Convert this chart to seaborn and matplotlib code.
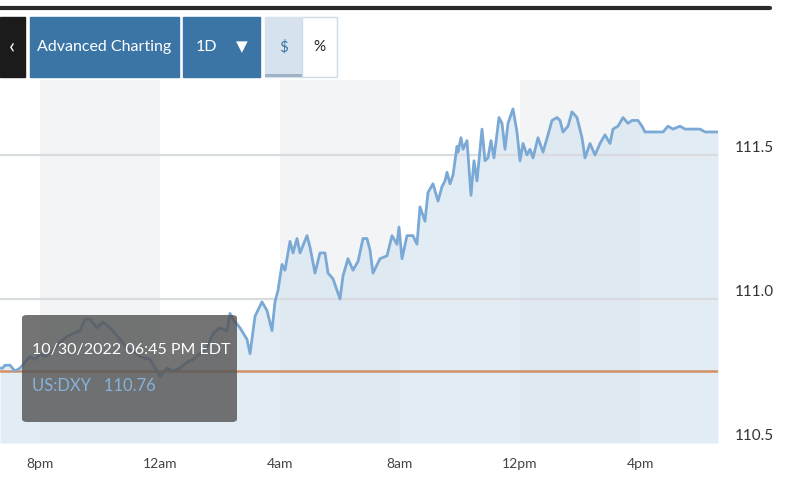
import pandas as pd
import numpy as np
import matplotlib.pyplot as plt
from matplotlib.patches import Rectangle, FancyBboxPatch
import seaborn as sns

# intraday US:DXY (time of day, index level)
times = ["18:40", "18:45", "18:50", "19:00", "19:10", "19:20", "19:30", "19:40", "19:50",
         "20:00", "20:10", "20:20", "20:30", "20:40", "20:54", "21:06", "21:20", "21:30",
         "21:40", "21:54", "22:06", "22:20", "22:30", "22:40", "22:54", "23:06", "23:20",
         "23:40", "23:54", "00:00", "00:14", "00:26", "00:40", "00:54", "01:06", "01:20",
         "01:34", "01:46", "02:00", "02:14", "02:20", "02:26", "02:40", "02:54", "03:00",
         "03:10", "03:24", "03:34", "03:44", "03:50", "03:56", "04:04", "04:10", "04:20",
         "04:26", "04:34", "04:40", "04:54", "05:00", "05:10", "05:20", "05:30", "05:36",
         "05:46", "05:54", "06:00", "06:06", "06:16", "06:26", "06:36", "06:46", "06:54",
         "07:00", "07:06", "07:20", "07:34", "07:44", "07:54", "07:58", "08:04", "08:14",
         "08:26", "08:34", "08:40", "08:50", "08:56", "09:06", "09:16", "09:24", "09:30",
         "09:34", "09:40", "09:46", "09:54", "09:56", "10:02", "10:06", "10:14", "10:22",
         "10:28", "10:34", "10:44", "10:50", "10:56", "11:02", "11:08", "11:18", "11:24",
         "11:30", "11:36", "11:46", "11:54", "12:00", "12:06", "12:14", "12:20", "12:26",
         "12:36", "12:46", "12:56", "13:04", "13:14", "13:20", "13:26", "13:36", "13:44",
         "13:54", "14:04", "14:10", "14:20", "14:30", "14:40", "14:50", "15:00", "15:06",
         "15:16", "15:26", "15:36", "15:44", "15:56", "16:04", "16:10", "16:20", "16:34",
         "16:46", "16:56", "17:06", "17:20", "17:30", "17:40", "17:50", "18:00", "18:10",
         "18:24", "18:36"]
dxy = [110.76, 110.76, 110.77, 110.77, 110.75, 110.76, 110.78, 110.80, 110.79,
       110.81, 110.80, 110.81, 110.83, 110.85, 110.87, 110.88, 110.89, 110.93,
       110.93, 110.90, 110.92, 110.90, 110.88, 110.86, 110.83, 110.82, 110.80,
       110.79, 110.75, 110.73, 110.76, 110.75, 110.76, 110.78, 110.79, 110.81,
       110.83, 110.88, 110.90, 110.89, 110.95, 110.93, 110.90, 110.86, 110.81,
       110.94, 110.99, 110.96, 110.89, 110.99, 111.03, 111.12, 111.10, 111.20,
       111.16, 111.21, 111.16, 111.22, 111.18, 111.09, 111.16, 111.16, 111.09,
       111.07, 111.03, 111.00, 111.08, 111.14, 111.10, 111.13, 111.21, 111.21,
       111.17, 111.09, 111.14, 111.15, 111.22, 111.19, 111.25, 111.14, 111.22,
       111.22, 111.19, 111.32, 111.27, 111.37, 111.40, 111.34, 111.39, 111.41,
       111.44, 111.40, 111.43, 111.53, 111.51, 111.56, 111.52, 111.55, 111.36,
       111.48, 111.41, 111.59, 111.48, 111.49, 111.55, 111.49, 111.63, 111.61,
       111.52, 111.61, 111.66, 111.58, 111.48, 111.54, 111.50, 111.52, 111.49,
       111.56, 111.51, 111.57, 111.62, 111.63, 111.62, 111.58, 111.60, 111.65,
       111.63, 111.56, 111.49, 111.54, 111.50, 111.54, 111.57, 111.54, 111.59,
       111.60, 111.63, 111.61, 111.62, 111.62, 111.60, 111.58, 111.58, 111.58,
       111.58, 111.60, 111.59, 111.60, 111.59, 111.59, 111.59, 111.59, 111.58,
       111.58, 111.58]
prev_close = 110.75
y_ticks = [110.5, 111.0, 111.5]
y_labels = ["110.5", "111.0", "111.5"]
x_ticks = ["2022-10-30 20:00", "2022-10-31 00:00", "2022-10-31 04:00",
           "2022-10-31 08:00", "2022-10-31 12:00", "2022-10-31 16:00"]
x_labels = ["8pm", "12am", "4am", "8am", "12pm", "4pm"]
shaded = [("2022-10-30 20:00", "2022-10-31 00:00"),
          ("2022-10-31 04:00", "2022-10-31 08:00"),
          ("2022-10-31 12:00", "2022-10-31 16:00")]
tip_time = "10/30/2022 06:45 PM EDT"
tip_value = "US:DXY   110.76"

# times roll over midnight once
stamps = []
day = pd.Timestamp("2022-10-30")
prev = None
for t in times:
    ts = pd.Timestamp(f"{day.date()} {t}")
    if prev is not None and ts < prev:
        day = day + pd.Timedelta(days=1)
        ts = pd.Timestamp(f"{day.date()} {t}")
    stamps.append(ts)
    prev = ts
df = pd.DataFrame({"time": stamps, "dxy": dxy})

sns.set_theme(style="white")
plt.rcParams['font.family'] = ['Lato', 'DejaVu Sans']

W, H = 800, 500
fig = plt.figure(figsize=(8, 5), dpi=100)
ax = fig.add_axes([0, 57 / H, 718 / W, (443 - 80) / H])

for a, b in shaded:
    ax.axvspan(pd.Timestamp(a), pd.Timestamp(b), color='#f3f4f5', lw=0, zorder=0)

ax.fill_between(df["time"], df["dxy"], 110.5, color='#d7e5f0', alpha=0.7, lw=0, zorder=1)
for v in y_ticks[1:]:
    ax.axhline(v, color='#d9dcdf', lw=1.6, zorder=1.5)
ax.axhline(prev_close, color='#d39066', lw=1.8, zorder=2)
sns.lineplot(data=df, x="time", y="dxy", ax=ax, color='#7aa9d6', lw=2.0, zorder=3)

ax.set_xlim(df["time"].iloc[0], df["time"].iloc[-1])
ax.set_ylim(110.5, 111.5 + 75 / 288)
for s in ax.spines.values():
    s.set_visible(False)
ax.set_xlabel("")
ax.set_ylabel("")

ax.set_xticks([pd.Timestamp(t) for t in x_ticks])
ax.set_xticklabels(x_labels, fontsize=10, color='#444444')
ax.tick_params(axis='x', length=5, width=1, color='#d0d4d8', pad=6)
ax.yaxis.tick_right()
ax.set_yticks(y_ticks)
ax.set_yticklabels(y_labels, fontsize=11, color='#333333')
ax.tick_params(axis='y', length=0, pad=12)
for lab in ax.get_yticklabels():
    lab.set_va('bottom')


def fbox(x, y, w, h):
    # pixel box (top-left origin) -> figure fraction
    return x / W, 1 - (y + h) / H, w / W, h / H


# tooltip
bx, by, bw, bh = fbox(22, 315, 215, 107)
fig.patches.append(FancyBboxPatch((bx, by), bw, bh, boxstyle="round,pad=0,rounding_size=0.006",
                                  transform=fig.transFigure, facecolor='#555555', alpha=0.82,
                                  lw=0, zorder=5))
fig.text(32 / W, 1 - 350 / H, tip_time, fontsize=11.5, color='white', va='center', zorder=6)
fig.text(32 / W, 1 - 386 / H, tip_value, fontsize=12, color='#86b1da', va='center', zorder=6)

# toolbar
fig.add_artist(plt.Line2D([0, 770 / W], [1 - 8 / H, 1 - 8 / H], color='#2a2a2a', lw=3,
                          transform=fig.transFigure))
buttons = [(0, 25, '#1b1b1b', '‹', 'white', 16),
           (30, 149, '#3a75a6', 'Advanced Charting', 'white', 11.5),
           (183, 77, '#3a75a6', '', 'white', 11),
           (265, 37, '#d6e3ee', '$', '#3a75a6', 11),
           (302, 35, '#ffffff', '%', '#222222', 11)]
for x0, w, fc, label, tc, fs in buttons:
    rx, ry, rw, rh = fbox(x0, 17, w, 60)
    fig.patches.append(Rectangle((rx, ry), rw, rh, transform=fig.transFigure, facecolor=fc,
                                 edgecolor='#cfdce7' if fc == '#ffffff' else fc, lw=1))
    if label:
        fig.text((x0 + w / 2) / W, 1 - 47 / H, label, fontsize=fs, color=tc,
                 ha='center', va='center')
fig.text(206 / W, 1 - 47 / H, '1D', fontsize=11.5, color='white', ha='center', va='center')
fig.text(242 / W, 1 - 47 / H, '▼', fontsize=11, color='white', ha='center', va='center',
         family=['DejaVu Sans'])
sx, sy, sw, sh = fbox(265, 74, 37, 3)
fig.patches.append(Rectangle((sx, sy), sw, sh, transform=fig.transFigure, facecolor='#9fb3c4', lw=0))

plt.savefig('out.png', dpi=100)
